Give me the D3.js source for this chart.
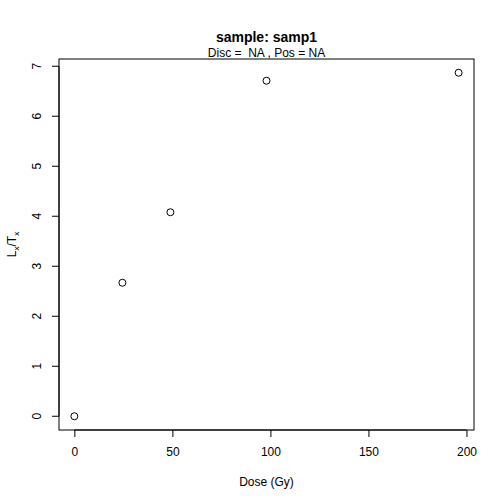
<!DOCTYPE html>
<html>
<head>
<meta charset="utf-8">
<script src="https://cdn.jsdelivr.net/npm/d3@7"></script>
<style>
  body { margin: 0; background: #fff; }
  text { font-family: "Liberation Sans", Arial, sans-serif; }
</style>
</head>
<body>
<script>
// values
var doses = [0, 24.5, 49, 98, 196];
var lxtx = [0, 2.67, 4.08, 6.71, 6.87];
var xTicks = [0, 50, 100, 150, 200];
var yTicks = [0, 1, 2, 3, 4, 5, 6, 7];

var width = 504, height = 504;
var pLeft = 59, pRight = 474, pTop = 59, pBottom = 430;

var svg = d3.select('body').append('svg')
    .attr('width', width)
    .attr('height', height);

// R style 4% padding on each side
var xMin = d3.min(doses), xMax = d3.max(doses);
var yMin = d3.min(lxtx), yMax = d3.max(lxtx);
var xPad = (xMax - xMin) * 0.04, yPad = (yMax - yMin) * 0.04;

var x = d3.scaleLinear().domain([xMin - xPad, xMax + xPad]).range([pLeft, pRight]);
var y = d3.scaleLinear().domain([yMin - yPad, yMax + yPad]).range([pBottom, pTop]);

// box
svg.append('rect')
    .attr('x', pLeft).attr('y', pTop)
    .attr('width', pRight - pLeft).attr('height', pBottom - pTop)
    .attr('fill', 'none').attr('stroke', '#000').attr('stroke-width', 1);

var xAxis = d3.axisBottom(x).tickValues(xTicks).tickSize(7).tickPadding(10);
var gx = svg.append('g').attr('transform', 'translate(0,' + pBottom + ')').call(xAxis);
gx.select('.domain').attr('d', 'M' + x(0) + ',0H' + x(200)).attr('stroke', '#000');
gx.selectAll('text').attr('font-size', 12).attr('fill', '#000').attr('font-family', '"Liberation Sans", Arial, sans-serif');

var yAxis = d3.axisLeft(y).tickValues(yTicks).tickSize(7).tickPadding(0);
var gy = svg.append('g').attr('transform', 'translate(' + pLeft + ',0)').call(yAxis);
gy.select('.domain').attr('d', 'M0,' + y(0) + 'V' + y(7)).attr('stroke', '#000');
gy.selectAll('.tick').attr('transform', function(d) { return 'translate(0,' + y(d) + ')'; });
gy.selectAll('text')
    .attr('font-size', 12).attr('fill', '#000')
    .attr('font-family', '"Liberation Sans", Arial, sans-serif')
    .attr('text-anchor', 'middle')
    .attr('dy', null)
    .attr('x', 0)
    .attr('y', 0)
    .attr('transform', 'translate(-18,0) rotate(-90)');

// points
svg.append('g').selectAll('circle')
    .data(doses)
    .join('circle')
    .attr('cx', function(d) { return x(d); })
    .attr('cy', function(d, i) { return y(lxtx[i]); })
    .attr('r', 3.5)
    .attr('fill', 'none')
    .attr('stroke', '#000')
    .attr('stroke-width', 1);

var cx = (pLeft + pRight) / 2;

svg.append('text')
    .attr('x', cx).attr('y', 42)
    .attr('text-anchor', 'middle')
    .attr('font-size', 14).attr('font-weight', 'bold')
    .text('sample: samp1');

svg.append('text')
    .attr('x', cx).attr('y', 57)
    .attr('text-anchor', 'middle')
    .attr('font-size', 12)
    .style('white-space', 'pre')
    .text('Disc =  NA , Pos = NA');

svg.append('text')
    .attr('x', cx).attr('y', 486)
    .attr('text-anchor', 'middle')
    .attr('font-size', 12)
    .text('Dose (Gy)');

var yl = svg.append('text')
    .attr('transform', 'translate(16,' + ((pTop + pBottom) / 2) + ') rotate(-90)')
    .attr('text-anchor', 'middle')
    .attr('font-size', 12);
yl.append('tspan').text('L');
yl.append('tspan').attr('font-size', 8).attr('dy', 3).text('x');
yl.append('tspan').attr('dy', -3).text('/T');
yl.append('tspan').attr('font-size', 8).attr('dy', 3).text('x');
</script>
</body>
</html>
